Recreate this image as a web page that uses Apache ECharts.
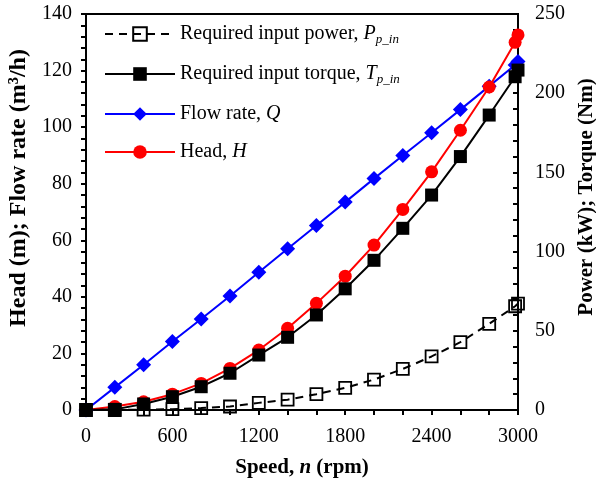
<!DOCTYPE html>
<html>
<head>
<meta charset="utf-8">
<script src="https://cdn.jsdelivr.net/npm/echarts@6/dist/echarts.min.js"></script>
<style>html,body{margin:0;padding:0;background:#fff}#c{width:596px;height:481px}</style>
</head>
<body>
<div id="c"></div>
<script>
// Data
const speed  = [0, 200, 400, 600, 800, 1000, 1200, 1400, 1600, 1800, 2000, 2200, 2400, 2600, 2800, 2980, 3000];
const flow   = [0, 8.0, 16.0, 24.2, 32.2, 40.3, 48.7, 57.0, 65.2, 73.5, 81.8, 90.0, 98.0, 106.2, 114.5, 122.0, 123.2];
const head   = [0, 1.2, 2.9, 5.6, 9.4, 14.7, 21.2, 28.9, 37.7, 47.3, 58.3, 70.9, 84.2, 98.9, 114.2, 130.0, 132.6];
const torque = [0, 0.4, 3.8, 8.4, 14.7, 23.2, 34.7, 45.9, 60.0, 76.5, 94.5, 114.7, 135.7, 160.0, 186.2, 210.4, 214.6];
const power  = [0, 0, 0.2, 0.5, 1.2, 2.2, 4.5, 6.5, 10.0, 14.0, 19.2, 25.9, 33.8, 42.8, 54.4, 65.5, 67.2];
const xTicks = [0, 600, 1200, 1800, 2400, 3000];
const leftTicks = [0, 20, 40, 60, 80, 100, 120, 140];
const rightTicks = [0, 50, 100, 150, 200, 250];

const F = '"Liberation Serif", "Times New Roman", serif';
const pair = (ys) => speed.map((x, i) => [x, ys[i]]);

const chart = echarts.init(document.getElementById('c'), null, {renderer: 'canvas'});
const axisLine = {show: true, onZero: false, lineStyle: {color: '#000', width: 2}};
const labelStyle = {color: '#000', fontFamily: F, fontSize: 20};

chart.setOption({
  animation: false,
  backgroundColor: '#fff',
  grid: {left: 86, right: 78, top: 14, bottom: 71, show: true, borderColor: '#000', borderWidth: 2,
    containLabel: false, outerBoundsMode: 'none'},
  legend: {
    left: 99, top: 19, orient: 'vertical',
    itemWidth: 70, itemHeight: 17, itemGap: 18,
    data: ['P', 'T', 'Q', 'H'],
    formatter: function (n) {
      if (n === 'P') return 'Required input power, {i|P}{s|p_in}';
      if (n === 'T') return 'Required input torque, {i|T}{s|p_in}';
      if (n === 'Q') return 'Flow rate, {i|Q}';
      return 'Head, {i|H}';
    },
    textStyle: {
      color: '#000', fontFamily: F, fontSize: 20,
      rich: {
        i: {fontFamily: F, fontStyle: 'italic', fontSize: 20, color: '#000'},
        s: {fontFamily: F, fontStyle: 'italic', fontSize: 13, color: '#000', padding: [11, 0, 0, 0]}
      }
    }
  },
  xAxis: {
    type: 'value', min: 0, max: 3000, interval: 600,
    name: 'Speed, {i|n} (rpm)', nameLocation: 'middle', nameGap: 47,
    nameTextStyle: {color: '#000', fontFamily: F, fontSize: 21, fontWeight: 'bold',
      rich: {i: {fontFamily: F, fontSize: 21, fontWeight: 'bold', fontStyle: 'italic', color: '#000'}}},
    axisLine: axisLine,
    axisTick: {show: true, inside: false, length: 5, lineStyle: {color: '#000', width: 2}},
    minorTick: {show: true, splitNumber: 3, length: 5, lineStyle: {color: '#000', width: 2}},
    axisLabel: Object.assign({margin: 17, formatter: v => xTicks.includes(v) ? String(v) : ''}, labelStyle),
    splitLine: {show: false}
  },
  yAxis: [{
    type: 'value', min: 0, max: 140, interval: 20, position: 'left',
    name: 'Head (m); Flow rate (m³/h)', nameLocation: 'middle', nameGap: 46, nameRotate: 90,
    nameTextStyle: {color: '#000', fontFamily: F, fontSize: 24, fontWeight: 'bold', padding: [0, 0, 0, 48]},
    axisLine: axisLine,
    axisTick: {show: true, inside: false, length: 5, lineStyle: {color: '#000', width: 2}},
    minorTick: {show: true, splitNumber: 5, length: 5, lineStyle: {color: '#000', width: 2}},
    axisLabel: Object.assign({margin: 14, formatter: v => leftTicks.includes(v) ? String(v) : ''}, labelStyle),
    splitLine: {show: false}
  }, {
    type: 'value', min: 0, max: 250, interval: 50, position: 'right',
    name: 'Power (kW); Torque (Nm)', nameLocation: 'middle', nameGap: 48, nameRotate: 90,
    nameTextStyle: {color: '#000', fontFamily: F, fontSize: 21, fontWeight: 'bold', padding: [0, 0, 0, 30]},
    axisLine: axisLine,
    axisTick: {show: true, inside: true, length: 5, lineStyle: {color: '#000', width: 2}},
    minorTick: {show: true, splitNumber: 5, length: 5, lineStyle: {color: '#000', width: 2}},
    axisLabel: Object.assign({margin: 17, formatter: v => rightTicks.includes(v) ? String(v) : ''}, labelStyle),
    splitLine: {show: false}
  }],
  series: [
    {name: 'Q', type: 'line', yAxisIndex: 0, data: pair(flow),
      symbol: 'diamond', symbolSize: 15, lineStyle: {color: '#0000ff', width: 2},
      itemStyle: {color: '#0000ff'}},
    {name: 'H', type: 'line', yAxisIndex: 0, data: pair(head),
      symbol: 'circle', symbolSize: 13, lineStyle: {color: '#ff0000', width: 2},
      itemStyle: {color: '#ff0000'}},
    {name: 'T', type: 'line', yAxisIndex: 1, data: pair(torque),
      symbol: 'rect', symbolSize: 13, lineStyle: {color: '#000', width: 2},
      itemStyle: {color: '#000'}},
    {name: 'P', type: 'line', yAxisIndex: 1, data: pair(power),
      symbol: 'rect', symbolSize: 12, lineStyle: {color: '#000', width: 2, type: [8, 6]},
      itemStyle: {color: 'rgba(255,255,255,0)', borderColor: '#000', borderWidth: 1.8}}
  ]
});
</script>
</body>
</html>
